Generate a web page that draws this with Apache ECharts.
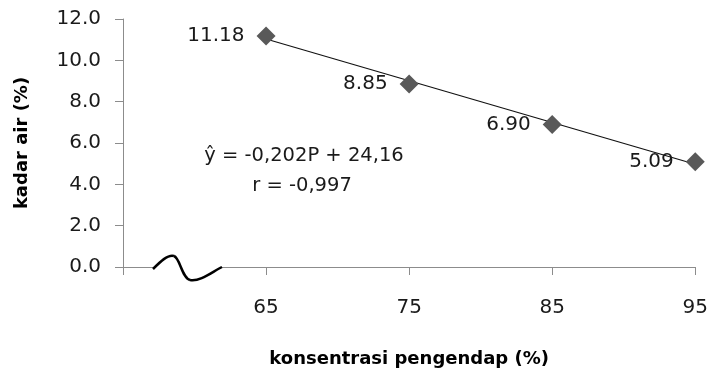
<!DOCTYPE html>
<html>
<head>
<meta charset="utf-8">
<script src="https://cdn.jsdelivr.net/npm/echarts@6/dist/echarts.min.js"></script>
<style>html,body{margin:0;padding:0;background:#fff}#c{width:711px;height:373px}</style>
</head>
<body>
<div id="c"></div>
<script>
const concentrations = [65, 75, 85, 95];
const waterContent = [11.18, 8.85, 6.90, 5.09];
const waterLabels = ['11.18', '8.85', '6.90', '5.09'];
const trendX = [65, 95];
const trendY = [11.03, 4.97];
const xTicks = [55, 65, 75, 85, 95];
const yTicks = [0, 2, 4, 6, 8, 10, 12];
const equationText = 'ŷ = -0,202P + 24,16';
const rText = 'r = -0,997';

const FONT = 'DejaVu Sans';
const chart = echarts.init(document.getElementById('c'), null, {renderer: 'canvas'});
const breakStyle = {fill: 'none', stroke: '#000', lineWidth: 2.5};
const option = {
  animation: false,
  backgroundColor: '#fff',
  grid: {left: 123, right: 11, top: 19, bottom: 105, containLabel: false},
  xAxis: {
    type: 'value', min: 55, max: 95, interval: 10,
    name: 'konsentrasi pengendap (%)', nameLocation: 'middle', nameGap: 83,
    nameTextStyle: {fontFamily: FONT, fontSize: 18, fontWeight: 'bold', color: '#000'},
    axisLine: {show: true, onZero: false, lineStyle: {color: '#8c8c8c', width: 1}},
    axisTick: {show: true, length: 8, lineStyle: {color: '#8c8c8c'}},
    splitLine: {show: false},
    axisLabel: {margin: 31, fontFamily: FONT, fontSize: 20, color: '#1a1a1a',
      formatter: v => (xTicks.indexOf(v) > 0 ? String(v) : '')}
  },
  yAxis: {
    type: 'value', min: 0, max: 12, interval: 2,
    name: 'kadar air (%)', nameLocation: 'middle', nameGap: 92, nameRotate: 90,
    nameTextStyle: {fontFamily: FONT, fontSize: 18, fontWeight: 'bold', color: '#000'},
    axisLine: {show: true, lineStyle: {color: '#8c8c8c', width: 1}},
    axisTick: {show: true, length: 8, lineStyle: {color: '#8c8c8c'}},
    splitLine: {show: false},
    axisLabel: {margin: 22, fontFamily: FONT, fontSize: 20, color: '#1a1a1a',
      formatter: v => v.toFixed(1)}
  },
  series: [
    {
      type: 'line', data: trendX.map((x, i) => [x, trendY[i]]),
      showSymbol: false, symbol: 'none',
      lineStyle: {color: '#111', width: 1.2, opacity: 1}, z: 2, silent: true
    },
    {
      type: 'scatter', data: concentrations.map((x, i) => [x, waterContent[i]]),
      symbol: 'diamond', symbolSize: 19,
      itemStyle: {color: '#595959', opacity: 1}, z: 3,
      label: {show: true, position: 'left', distance: 12, fontFamily: FONT, fontSize: 20, color: '#1a1a1a',
        opacity: 1, textBorderWidth: 0, formatter: p => waterLabels[p.dataIndex]}
    }
  ],
  graphic: [
    {type: 'text', x: 304, y: 156, z: 10,
      style: {text: equationText, font: '19.5px "DejaVu Sans"', fill: '#1a1a1a', align: 'center', verticalAlign: 'middle'}},
    {type: 'text', x: 302, y: 186, z: 10,
      style: {text: rText, font: '19.5px "DejaVu Sans"', fill: '#1a1a1a', align: 'center', verticalAlign: 'middle'}},
    {type: 'rect', z: 20, shape: {x: 154, y: 265, width: 67, height: 6}, style: {fill: '#fff'}},
    {type: 'bezierCurve', z: 21,
      shape: {x1: 153, y1: 269, cpx1: 160, cpy1: 262, cpx2: 168, cpy2: 254, x2: 174, y2: 256}, style: breakStyle},
    {type: 'bezierCurve', z: 21,
      shape: {x1: 174, y1: 256, cpx1: 180, cpy1: 258, cpx2: 182, cpy2: 278, x2: 190, y2: 280}, style: breakStyle},
    {type: 'bezierCurve', z: 21,
      shape: {x1: 190, y1: 280, cpx1: 200, cpy1: 282, cpx2: 212, cpy2: 272, x2: 222, y2: 267}, style: breakStyle}
  ]
};
chart.setOption(option);
</script>
</body>
</html>
